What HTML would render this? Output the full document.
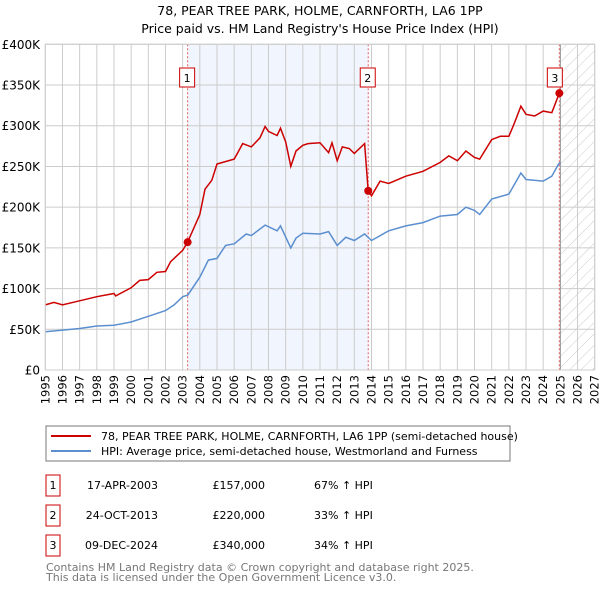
<!DOCTYPE html>
<html><head><meta charset="utf-8">
<style>
body{margin:0;background:#fff;width:600px;height:590px;overflow:hidden;font-family:"DejaVu Sans","Liberation Sans",sans-serif;}
svg text{font-family:"DejaVu Sans","Liberation Sans",sans-serif;}
</style></head><body>
<svg id="chart" width="600" height="590" xmlns="http://www.w3.org/2000/svg">
<defs>
<pattern id="hatch" patternUnits="userSpaceOnUse" width="8" height="8" patternTransform="rotate(45)">
<line x1="0" y1="0" x2="0" y2="8" stroke="#ccc" stroke-width="1"/>
</pattern>
</defs>
<text x="320" y="15" text-anchor="middle" font-size="12.5">78, PEAR TREE PARK, HOLME, CARNFORTH, LA6 1PP</text>
<text x="320" y="33" text-anchor="middle" font-size="12.5">Price paid vs. HM Land Registry's House Price Index (HPI)</text>
<g id="plot"></g>
<g id="legend">
<rect x="46" y="426" width="464" height="35" fill="#fff" stroke="#777" stroke-width="1"/>
<line x1="51" y1="436" x2="91" y2="436" stroke="#cc0000" stroke-width="2"/>
<text x="101" y="440" font-size="11">78, PEAR TREE PARK, HOLME, CARNFORTH, LA6 1PP (semi-detached house)</text>
<line x1="51" y1="451" x2="91" y2="451" stroke="#5b8fd0" stroke-width="2"/>
<text x="101" y="455" font-size="11">HPI: Average price, semi-detached house, Westmorland and Furness</text>
</g>
<g id="table"></g>
<text x="46" y="571" font-size="11" fill="#777">Contains HM Land Registry data © Crown copyright and database right 2025.</text>
<text x="46" y="581" font-size="11" fill="#777">This data is licensed under the Open Government Licence v3.0.</text>
</svg>
<script>
const redYears=[1995,1995.5,1996,1997,1998,1999,1999.1,2000,2000.5,2001,2001.5,2002,2002.3,2003,2003.29,2004,2004.3,2004.7,2005,2006,2006.5,2007,2007.5,2007.8,2008,2008.5,2008.7,2009,2009.3,2009.6,2010,2010.3,2011,2011.5,2011.7,2012,2012.3,2012.7,2013,2013.6,2013.81,2014,2014.5,2015,2016,2017,2018,2018.5,2019,2019.5,2020,2020.3,2021,2021.5,2022,2022.3,2022.7,2023,2023.5,2024,2024.5,2024.94,2025];
const redValues=[80,83,80,85,90,94,91,101,110,111,120,121,133,147,157,191,222,233,253,259,278,274,285,299,293,288,297,280,250,269,276,278,279,267,279,257,274,272,266,278,220,214,232,229,238,244,255,263,257,269,261,259,283,287,287,302,324,314,312,318,316,340,341];
const blueYears=[1995,1996,1997,1998,1999,2000,2001,2002,2002.5,2003,2003.3,2004,2004.5,2005,2005.5,2006,2006.7,2007,2007.8,2008.5,2008.7,2009.3,2009.6,2010,2011,2011.5,2012,2012.5,2013,2013.6,2014,2015,2016,2017,2018,2019,2019.5,2020,2020.3,2021,2022,2022.7,2023,2024,2024.5,2024.9,2025];
const blueValues=[47,49,51,54,55,59,66,73,80,90,92,114,135,137,153,155,167,165,178,171,177,150,162,168,167,170,153,163,159,167,159,171,177,181,189,191,200,196,191,210,216,242,234,232,238,253,255];
const saleYears=[2003.29,2013.81,2024.94];
const saleValues=[157,220,340];
const saleLabels=["1","2","3"];
const saleDates=["17-APR-2003","24-OCT-2013","09-DEC-2024"];
const salePrices=["£157,000","£220,000","£340,000"];
const saleHpi=["67% ↑ HPI","33% ↑ HPI","34% ↑ HPI"];
const yTicks=[0,50,100,150,200,250,300,350,400];
const yTickLabels=["£0","£50K","£100K","£150K","£200K","£250K","£300K","£350K","£400K"];
const xTicks=[];for(let y=1995;y<=2027;y++)xTicks.push(y);

const NS="http://www.w3.org/2000/svg";
const X0=45.3,X1=594.7,Y0=370,Y1=44.3;
const xs=v=>X0+(v-1995)/(2027-1995)*(X1-X0);
const ys=v=>Y0-v/400*(Y0-Y1);
const plot=document.getElementById('plot');
function mk(tag,attrs,parent){const e=document.createElementNS(NS,tag);for(const k in attrs)e.setAttribute(k,attrs[k]);(parent||plot).appendChild(e);return e;}

let e;
e=mk('rect',{x:X0,y:Y1,width:X1-X0,height:Y0-Y1,fill:'#fff'});


e=mk('rect',{x:xs(saleYears[0]),y:Y1,width:xs(saleYears[1])-xs(saleYears[0]),height:Y0-Y1,fill:'#eef3fc',opacity:0.8});


e=mk('rect',{x:xs(2025),y:Y1,width:X1-xs(2025),height:Y0-Y1,fill:'url(#hatch)'});


xTicks.forEach(t=>{
 const l=mk('line',{x1:xs(t),x2:xs(t),y1:Y1,y2:Y0,stroke:'#ccc','stroke-width':1});
 
 
 const tx=mk('text',{x:0,y:0,'font-size':11.5,'text-anchor':'end',transform:`translate(${xs(t)+4},${Y0+5}) rotate(-90)`});
 tx.textContent=t;
 
 
});
yTicks.forEach((t,i)=>{
 const l=mk('line',{x1:X0,x2:X1,y1:ys(t),y2:ys(t),stroke:'#ccc','stroke-width':1});
 
 
 const tx=mk('text',{x:40,y:ys(t)+4.5,'font-size':12,'text-anchor':'end'});
 tx.textContent=yTickLabels[i];
 
 
});
e=mk('line',{x1:xs(2025),x2:xs(2025),y1:Y1,y2:Y0,stroke:'#999','stroke-width':1});


saleYears.forEach(s=>{
 const l=mk('line',{x1:xs(s),x2:xs(s),y1:Y1,y2:Y0,stroke:'#e06060','stroke-width':1,'stroke-dasharray':'2,2'});
 
 
});
function pathOf(xa,va){return xa.map((x,i)=>(i?'L':'M')+xs(x).toFixed(1)+','+ys(va[i]).toFixed(1)).join('');}
e=mk('path',{d:pathOf(blueYears,blueValues),fill:'none',stroke:'#5b8fd0','stroke-width':1.5});


e=mk('path',{d:pathOf(redYears,redValues),fill:'none',stroke:'#cc0000','stroke-width':1.5});


saleYears.forEach((s,i)=>{
 const c=mk('circle',{cx:xs(s),cy:ys(saleValues[i]),r:4,fill:'#cc0000'});
 
 
 const bx=mk('rect',{x:xs(s)-8-(i==2?4:0),y:68,width:15,height:19,fill:'#fff',stroke:'#cc0000','stroke-width':1});
 
 
 const t=mk('text',{x:xs(s)-0.5-(i==2?4:0),y:82,'font-size':11,'text-anchor':'middle'});
 t.textContent=saleLabels[i];
 
 
});
e=mk('rect',{x:X0,y:Y1,width:X1-X0,height:Y0-Y1,fill:'none',stroke:'#ccc','stroke-width':1});



const table=document.getElementById('table');
const rowY=[485,515,545];
saleLabels.forEach((lb,i)=>{
 const y=rowY[i];
 const b=mk('rect',{x:46,y:y-10,width:14,height:21,fill:'#fff',stroke:'#cc0000','stroke-width':1},table);
 
 
 const cells=[[53,'middle',lb],[158,'end',saleDates[i]],[265,'end',salePrices[i]],[314,'start',saleHpi[i]]];
 cells.forEach(c=>{
  const t=mk('text',{x:c[0],y:y+4,'font-size':11,'text-anchor':c[1]},table);
  t.textContent=c[2];
  
  
 });
});
</script>
</body></html>
